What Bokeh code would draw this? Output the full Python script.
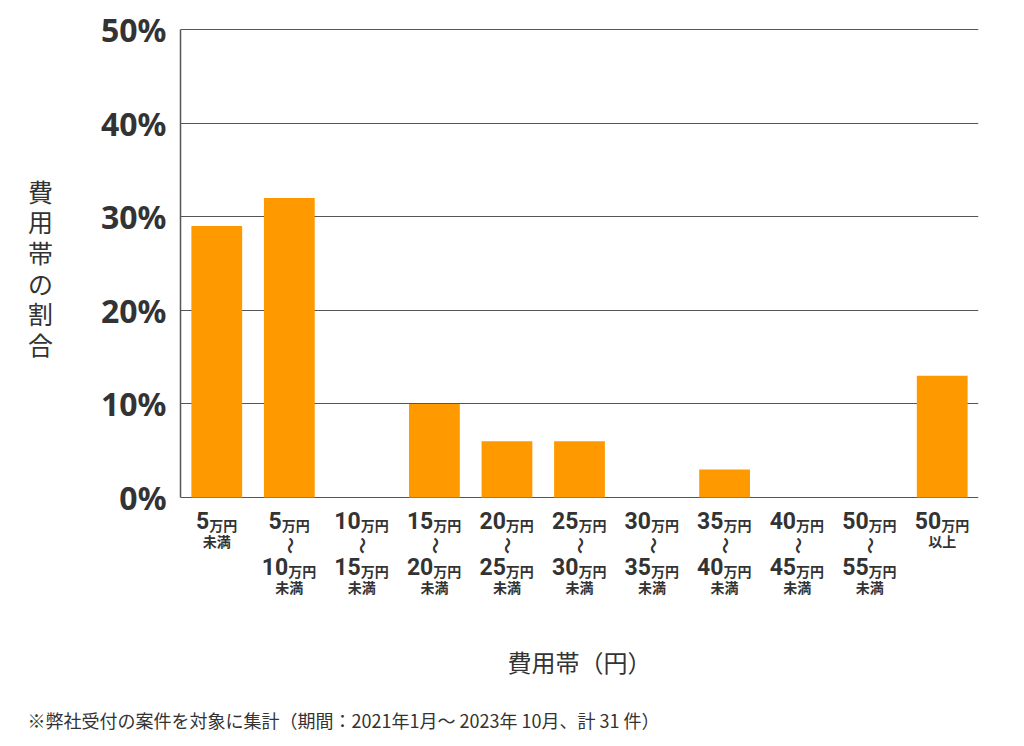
import math
from bokeh.plotting import figure
from bokeh.models import ColumnDataSource, FixedTicker, Range1d, FactorRange, Title
from bokeh.embed import file_html
from bokeh.resources import INLINE
from bokeh.core.properties import value

# ---- data ----
categories = ["5万円未満", "5万円〜10万円未満", "10万円〜15万円未満", "15万円〜20万円未満",
              "20万円〜25万円未満", "25万円〜30万円未満", "30万円〜35万円未満", "35万円〜40万円未満",
              "40万円〜45万円未満", "50万円〜55万円未満", "50万円以上"]
shares = [29, 32, 0, 10, 6, 6, 0, 3, 0, 0, 13]
range_low = ["5", "5", "10", "15", "20", "25", "30", "35", "40", "50", "50"]
range_high = ["", "10", "15", "20", "25", "30", "35", "40", "45", "55", ""]
range_note = ["未満", "未満", "未満", "未満", "未満", "未満", "未満", "未満", "未満", "未満", "以上"]
y_ticks = [0, 10, 20, 30, 40, 50]
unit = "万円"
y_title = "費用帯の割合"
x_title = "費用帯（円）"
footnote = "※弊社受付の案件を対象に集計（期間：2021年1月～ 2023年 10月、計 31 件）"

TXT = "#333333"
NUM_FONT = "Roboto"
JP_FONT = "Noto Sans CJK JP"
DIGIT_W = 12.9   # px per digit at 23px bold
UNIT_W = 28.0    # px for 万円 at 14px
W, H = 1024, 746

# layout constants (pixels)
TOP_PAD = 27        # canvas top -> frame top
ZERO_Y = 497        # pixel row of 0%
FIFTY_Y = 29        # pixel row of 50%
FRAME_BOTTOM = 690  # frame extends below the bars to hold the category labels
PX = (ZERO_Y - FIFTY_Y) / 50.0
y_end = 50 + (FIFTY_Y - TOP_PAD) / PX
y_start = -(FRAME_BOTTOM - ZERO_Y) / PX


def row(y_px):
    return -(y_px - ZERO_Y) / PX


p = figure(x_range=FactorRange(*categories), y_range=Range1d(y_start, y_end),
           width=W, height=H, output_backend="svg", toolbar_location=None,
           x_axis_location=None, min_border_left=180, min_border_right=46,
           min_border_top=TOP_PAD, min_border_bottom=H - FRAME_BOTTOM)
p.outline_line_color = None
p.xgrid.grid_line_color = None
p.ygrid.ticker = FixedTicker(ticks=y_ticks)
p.ygrid.grid_line_color = "#555555"
p.ygrid.grid_line_width = 1

ax = p.yaxis[0]
ax.ticker = FixedTicker(ticks=y_ticks)
ax.bounds = (y_ticks[0], y_ticks[-1])
ax.major_label_overrides = {t: f"{t}%" for t in y_ticks}
ax.major_label_text_font = "Noto Sans"
ax.major_label_text_font_style = "bold"
ax.major_label_text_font_size = "32px"
ax.major_label_text_color = TXT
ax.major_label_standoff = 8
ax.major_tick_line_color = None
ax.minor_tick_line_color = None
ax.axis_line_color = "#555555"
ax.axis_line_width = 1.5
# stacked upright characters; trailing blank lines lift the block to sit beside the bars
ax.axis_label = "\n".join(y_title) + "\n" * 6
ax.axis_label_orientation = "horizontal"
ax.axis_label_text_font = JP_FONT
ax.axis_label_text_font_style = "normal"
ax.axis_label_text_font_size = "25px"
ax.axis_label_text_color = TXT
ax.axis_label_text_line_height = 0.85
ax.axis_label_standoff = 45

src = ColumnDataSource(dict(cat=categories, share=shares))
p.vbar(x="cat", top="share", width=0.7, source=src, fill_color="#FF9900", line_color=None)

# ---------------- category labels ----------------
def group_offset(num):
    wn = len(num) * DIGIT_W
    total = wn + UNIT_W
    return -total / 2 + wn


num_x, num_t, num_xo, num_y, unit_y = [], [], [], [], []
for c, lo, hi in zip(categories, range_low, range_high):
    num_x.append(c); num_t.append(lo); num_xo.append(group_offset(lo))
    num_y.append(row(520)); unit_y.append(row(524))
    if hi:
        num_x.append(c); num_t.append(hi); num_xo.append(group_offset(hi))
        num_y.append(row(566)); unit_y.append(row(570))

num_src = ColumnDataSource(dict(x=num_x, y=num_y, t=num_t, xo=num_xo))
unit_src = ColumnDataSource(dict(x=num_x, y=unit_y, t=[unit] * len(num_x), xo=num_xo))
p.text(x="x", y="y", text="t", x_offset="xo", source=num_src,
       text_font=value(NUM_FONT), text_font_style="bold", text_font_size="23px",
       text_color=TXT, text_align="right", text_baseline="middle")
p.text(x="x", y="y", text="t", x_offset="xo", source=unit_src,
       text_font=value(JP_FONT), text_font_style="bold", text_font_size="14px",
       text_color=TXT, text_align="left", text_baseline="middle")

note_y = [row(586) if hi else row(540) for hi in range_high]
note_src = ColumnDataSource(dict(x=categories, y=note_y, t=range_note))
p.text(x="x", y="y", text="t", source=note_src,
       text_font=value(JP_FONT), text_font_style="bold", text_font_size="14px",
       text_color=TXT, text_align="center", text_baseline="middle")

wave_x = [c for c, hi in zip(categories, range_high) if hi]
wave_src = ColumnDataSource(dict(x=wave_x, y=[row(545)] * len(wave_x), t=["〜"] * len(wave_x)))
p.text(x="x", y="y", text="t", source=wave_src, angle=math.pi / 2,
       text_font=value(JP_FONT), text_font_style="bold", text_font_size="17px",
       text_color=TXT, text_align="center", text_baseline="middle")

mid = categories[len(categories) // 2]
p.text(x=[mid], y=[row(661)], text=[x_title],
       text_font=value(JP_FONT), text_font_size="24px",
       text_color=TXT, text_align="center", text_baseline="middle")

p.add_layout(Title(text=footnote, align="left", offset=-153, text_font=JP_FONT,
                   text_font_size="18px", text_font_style="normal", text_color=TXT,
                   standoff=28), "below")

open("out.html", "w").write(file_html(p, INLINE))
